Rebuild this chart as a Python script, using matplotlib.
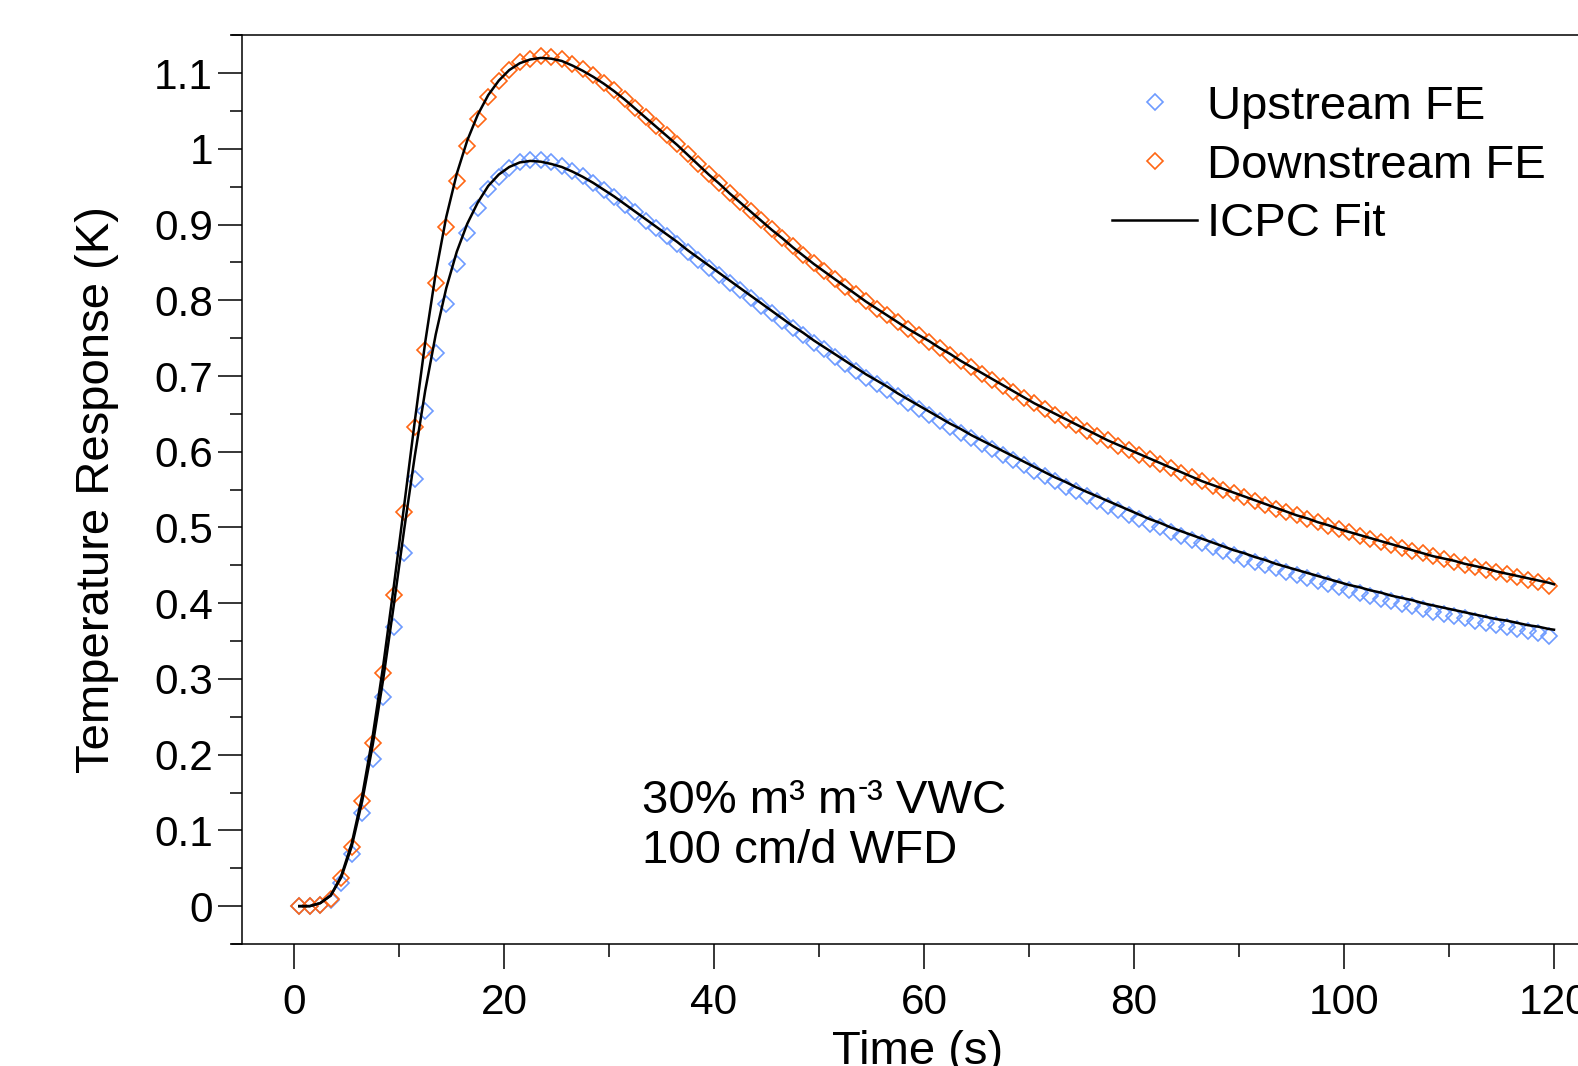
import numpy as np
import matplotlib
matplotlib.use("Agg")
import matplotlib.pyplot as plt
from matplotlib.ticker import MultipleLocator, FuncFormatter

plt.rcParams['font.family'] = ['Liberation Sans', 'DejaVu Sans']

# ---------------- data ----------------
time_data = np.arange(0.5, 120.0, 1.0)          # measurement times (s)
time_fit = np.append(time_data, 120.0)          # fit evaluation times (s)

upstream_fe = [
    0.000, 0.000, 0.001, 0.008, 0.030, 0.069, 0.123, 0.194, 0.276, 0.368,
    0.466, 0.564, 0.654, 0.731, 0.795, 0.848, 0.889, 0.922, 0.947, 0.963,
    0.975, 0.982, 0.985, 0.985, 0.982, 0.977, 0.971, 0.964, 0.955, 0.946,
    0.936, 0.926, 0.916, 0.905, 0.895, 0.885, 0.874, 0.864, 0.853, 0.843,
    0.833, 0.823, 0.813, 0.803, 0.793, 0.783, 0.773, 0.763, 0.754, 0.744,
    0.735, 0.725, 0.716, 0.707, 0.698, 0.690, 0.681, 0.673, 0.665, 0.657,
    0.648, 0.641, 0.633, 0.625, 0.618, 0.610, 0.603, 0.596, 0.589, 0.582,
    0.575, 0.568, 0.561, 0.554, 0.548, 0.541, 0.535, 0.529, 0.523, 0.517,
    0.511, 0.505, 0.500, 0.494, 0.489, 0.484, 0.479, 0.474, 0.469, 0.464,
    0.459, 0.455, 0.450, 0.446, 0.441, 0.437, 0.433, 0.429, 0.425, 0.421,
    0.417, 0.413, 0.410, 0.406, 0.403, 0.399, 0.396, 0.392, 0.389, 0.386,
    0.383, 0.380, 0.377, 0.374, 0.371, 0.368, 0.366, 0.363, 0.360, 0.357,
]

downstream_fe = [
    0.000, 0.000, 0.001, 0.010, 0.037, 0.078, 0.139, 0.215, 0.308, 0.411,
    0.520, 0.632, 0.734, 0.823, 0.897, 0.957, 1.004, 1.040, 1.069, 1.089,
    1.104, 1.114, 1.119, 1.122, 1.121, 1.118, 1.112, 1.105, 1.097, 1.087,
    1.077, 1.066, 1.054, 1.042, 1.030, 1.018, 1.006, 0.993, 0.980, 0.967,
    0.955, 0.942, 0.930, 0.918, 0.906, 0.894, 0.882, 0.871, 0.860, 0.849,
    0.838, 0.828, 0.818, 0.808, 0.799, 0.789, 0.780, 0.771, 0.762, 0.754,
    0.745, 0.737, 0.728, 0.720, 0.712, 0.703, 0.695, 0.687, 0.679, 0.671,
    0.664, 0.656, 0.649, 0.642, 0.635, 0.628, 0.621, 0.615, 0.608, 0.602,
    0.596, 0.590, 0.584, 0.578, 0.572, 0.567, 0.561, 0.555, 0.550, 0.545,
    0.540, 0.535, 0.530, 0.525, 0.521, 0.516, 0.511, 0.507, 0.502, 0.498,
    0.494, 0.489, 0.485, 0.481, 0.477, 0.473, 0.469, 0.466, 0.462, 0.458,
    0.455, 0.451, 0.448, 0.444, 0.441, 0.438, 0.434, 0.431, 0.428, 0.423,
]

upstream_fit = [
    0.000, 0.000, 0.004, 0.014, 0.038, 0.079, 0.139, 0.213, 0.300, 0.397,
    0.498, 0.594, 0.681, 0.755, 0.816, 0.864, 0.901, 0.929, 0.951, 0.966,
    0.976, 0.982, 0.984, 0.983, 0.980, 0.976, 0.970, 0.963, 0.955, 0.946,
    0.937, 0.927, 0.917, 0.907, 0.897, 0.887, 0.877, 0.866, 0.856, 0.846,
    0.836, 0.826, 0.816, 0.806, 0.796, 0.786, 0.776, 0.766, 0.757, 0.747,
    0.738, 0.729, 0.720, 0.711, 0.702, 0.694, 0.686, 0.677, 0.669, 0.661,
    0.653, 0.645, 0.637, 0.630, 0.622, 0.615, 0.608, 0.601, 0.594, 0.587,
    0.580, 0.573, 0.566, 0.560, 0.553, 0.547, 0.541, 0.535, 0.529, 0.523,
    0.517, 0.511, 0.506, 0.500, 0.495, 0.490, 0.485, 0.480, 0.475, 0.470,
    0.466, 0.461, 0.457, 0.452, 0.448, 0.444, 0.440, 0.436, 0.432, 0.428,
    0.424, 0.421, 0.417, 0.414, 0.410, 0.407, 0.404, 0.400, 0.397, 0.394,
    0.391, 0.388, 0.385, 0.382, 0.379, 0.377, 0.374, 0.371, 0.369, 0.366,
    0.365,
]

downstream_fit = [
    0.000, 0.000, 0.004, 0.014, 0.040, 0.083, 0.146, 0.225, 0.318, 0.422,
    0.530, 0.640, 0.745, 0.836, 0.910, 0.967, 1.011, 1.045, 1.071, 1.090,
    1.104, 1.113, 1.118, 1.120, 1.119, 1.116, 1.110, 1.103, 1.095, 1.086,
    1.076, 1.065, 1.053, 1.041, 1.029, 1.017, 1.005, 0.992, 0.979, 0.966,
    0.954, 0.941, 0.929, 0.917, 0.905, 0.893, 0.882, 0.870, 0.859, 0.848,
    0.838, 0.828, 0.818, 0.808, 0.798, 0.789, 0.780, 0.771, 0.762, 0.754,
    0.746, 0.737, 0.729, 0.720, 0.712, 0.704, 0.696, 0.688, 0.680, 0.672,
    0.664, 0.657, 0.650, 0.643, 0.636, 0.629, 0.622, 0.615, 0.609, 0.603,
    0.597, 0.591, 0.585, 0.579, 0.573, 0.567, 0.561, 0.556, 0.551, 0.546,
    0.541, 0.536, 0.531, 0.526, 0.521, 0.516, 0.512, 0.507, 0.503, 0.498,
    0.494, 0.490, 0.486, 0.482, 0.478, 0.474, 0.470, 0.466, 0.462, 0.459,
    0.456, 0.452, 0.449, 0.446, 0.442, 0.439, 0.436, 0.433, 0.430, 0.427,
    0.425,
]

series_labels = ["Upstream FE", "Downstream FE", "ICPC Fit"]
x_ticks = [0, 20, 40, 60, 80, 100, 120]
y_ticks = [0, 0.1, 0.2, 0.3, 0.4, 0.5, 0.6, 0.7, 0.8, 0.9, 1.0, 1.1]
# first annotation line is built from three pieces: "30% m³ m", raised "-", "³ VWC"
annot1_parts = ["30% m\u00b3 m", "-", "\u00b3 VWC"]
annot2 = "100 cm/d WFD"

BLUE = '#6E9BFF'
ORANGE = '#FF6614'

# ---------------- figure ----------------
W, H = 1578, 1066
fig = plt.figure(figsize=(W / 100, H / 100), dpi=100)
ax = fig.add_axes([241.5 / W, 122 / H, 1365 / W, 908.8 / H])

ax.plot(time_data, upstream_fe, linestyle='none', marker='D', ms=8.3,
        mfc='none', mec=BLUE, mew=1.2, label=series_labels[0], zorder=3)
ax.plot(time_data, downstream_fe, linestyle='none', marker='D', ms=8.3,
        mfc='none', mec=ORANGE, mew=1.2, label=series_labels[1], zorder=3)
ax.plot(time_fit, upstream_fit, color='black', lw=1.8, label=series_labels[2], zorder=4)
ax.plot(time_fit, downstream_fit, color='black', lw=1.8, zorder=4)

ax.set_xlim(-5, 125)
ax.set_ylim(-0.05, 1.15)

ax.set_xticks(x_ticks)
ax.set_yticks(y_ticks)
ax.xaxis.set_minor_locator(MultipleLocator(10))
ax.yaxis.set_minor_locator(MultipleLocator(0.05))
ax.yaxis.set_major_formatter(FuncFormatter(lambda v, p: f"{v:g}"))

ax.tick_params(axis='y', which='major', direction='out', length=17, width=1.1,
               labelsize=30.5, pad=3.5)
ax.tick_params(axis='y', which='minor', direction='out', length=8.6, width=1.1)
ax.tick_params(axis='x', which='major', direction='out', length=18, width=1.1,
               labelsize=30.5, pad=10)
ax.tick_params(axis='x', which='minor', direction='out', length=9.4, width=1.1)

for s in ['top', 'bottom', 'left', 'right']:
    ax.spines[s].set_linewidth(1.1)
ax.spines['bottom'].set_bounds(-5.95, 125)
ax.spines['top'].set_bounds(-5.95, 125)

ax.set_xlabel("Time (s)", fontsize=34)
ax.set_ylabel("Temperature Response (K)", fontsize=34)
ax.xaxis.set_label_coords(0.495, -0.095)
ax.xaxis.label.set_va('top')
ax.yaxis.set_label_coords(-0.0895, 0.5)

t1 = ax.text(33.1, 0.1225, annot1_parts[0], fontsize=34, va='baseline', ha='left')
t2 = ax.annotate(annot1_parts[1], xy=(1, 0), xycoords=t1, xytext=(0.3, 14.5),
                 textcoords='offset points', fontsize=22, va='bottom', ha='left')
t3 = ax.annotate(annot1_parts[2], xy=(1, 0), xycoords=(t2, t1), xytext=(-0.3, 0),
                 textcoords='offset points', fontsize=34, va='bottom', ha='left')
ax.text(33.1, 0.0565, annot2, fontsize=34, va='baseline', ha='left')

leg = ax.legend(loc='upper left', bbox_to_anchor=(1112 / W, 1 - 85 / H),
                bbox_transform=fig.transFigure, frameon=False, fontsize=34,
                handlelength=1.8, handletextpad=0.22, labelspacing=0.31,
                borderpad=0, borderaxespad=0, numpoints=1)

fig.savefig("out.png", dpi=100)
